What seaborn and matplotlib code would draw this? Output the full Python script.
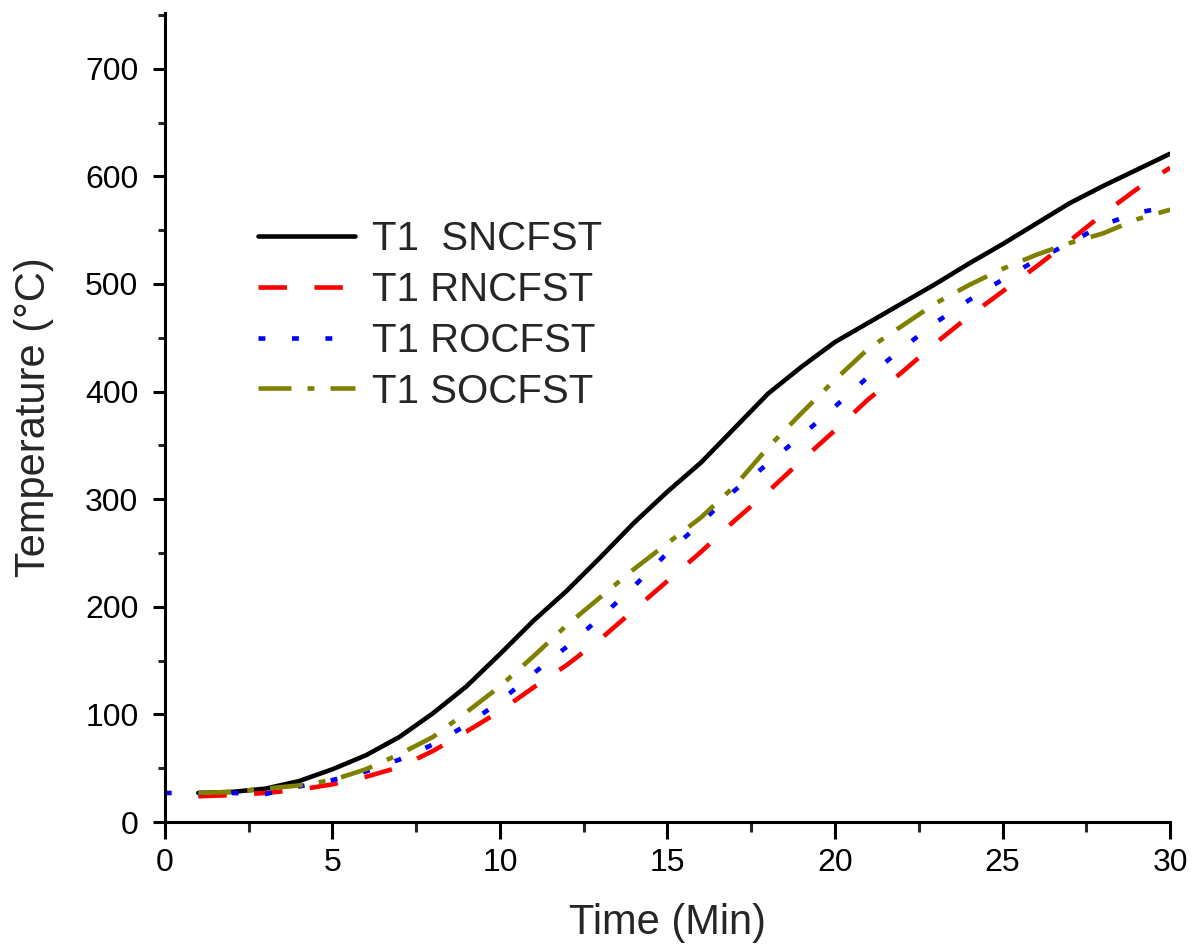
import numpy as np
import pandas as pd
import matplotlib
matplotlib.use("Agg")
import matplotlib.pyplot as plt
import seaborn as sns

# --- data (time in min, temperature in deg C) ---
time_main = list(range(1, 31))
time_blue = list(range(0, 31))

t1_sncfst = [27, 28, 31, 38, 49, 62, 79, 101, 126, 156, 187, 215, 246, 278, 307,
             334, 366, 398, 423, 446, 464, 482, 500, 519, 537, 556, 575, 591, 606, 621]
t1_rncfst = [24, 25, 27, 30, 35, 42, 51, 66, 84, 103, 125, 146, 170, 197, 224,
             251, 280, 307, 336, 364, 393, 418, 445, 470, 493, 516, 540, 565, 588, 608]
t1_rocfst = [27, 27, 27, 26, 33, 39, 47, 58, 72, 90, 112, 138, 163, 190, 219, 250,
             278, 308, 333, 359, 386, 414, 440, 464, 485, 504, 522, 538, 555, 566, 572]
t1_socfst = [27, 28, 31, 34, 39, 49, 63, 79, 102, 126, 154, 183, 209, 235, 259,
             283, 312, 348, 380, 411, 440, 461, 482, 499, 514, 527, 538, 547, 560, 569]

labels = ["T1  SNCFST", "T1 RNCFST", "T1 ROCFST", "T1 SOCFST"]

# --- figure ---
sns.set_style("ticks")
plt.rcParams['font.family'] = ['Liberation Sans', 'DejaVu Sans']

fig = plt.figure(figsize=(11.94, 9.51), dpi=100)
ax = fig.add_axes([0.138, 0.1356, 0.842, 0.851])

lw = 3.3
sns.lineplot(x=time_main, y=t1_sncfst, ax=ax, color="black", linewidth=lw,
             label=labels[0])
sns.lineplot(x=time_main, y=t1_rncfst, ax=ax, color="#ff0000", linewidth=lw,
             linestyle=(0, (6.2, 6.0)), label=labels[1])
sns.lineplot(x=time_blue, y=t1_rocfst, ax=ax, color="#0000ff", linewidth=lw,
             linestyle=(0, (1.5, 5.8)), label=labels[2])
sns.lineplot(x=time_main, y=t1_socfst, ax=ax, color="#808000", linewidth=lw,
             linestyle=(0, (7.2, 3.5, 1.5, 3.5)), label=labels[3])

ax.set_xlim(0, 30)
ax.set_ylim(0, 752)
ax.set_xticks(range(0, 31, 5))
ax.set_xticks(np.arange(2.5, 30, 5), minor=True)
ax.set_yticks(range(0, 701, 100))
ax.set_yticks(range(50, 751, 100), minor=True)

for side in ["top", "right"]:
    ax.spines[side].set_visible(False)
for side in ["left", "bottom"]:
    ax.spines[side].set_linewidth(2.2)
    ax.spines[side].set_color("black")

ax.tick_params(axis="x", which="major", length=12, width=2.2, direction="out",
               labelsize=23, pad=7, colors="black")
ax.tick_params(axis="x", which="minor", length=7, width=2.2, direction="out")
ax.tick_params(axis="y", which="major", length=9, width=2.2, direction="out",
               labelsize=23, pad=10, colors="black")
ax.tick_params(axis="y", which="minor", length=5, width=2.2, direction="out")

ax.set_xlabel("Time (Min)", fontsize=30, labelpad=18)
ax.set_ylabel("Temperature (°C)", fontsize=30, labelpad=22)

ax.legend(loc="upper left", bbox_to_anchor=(0.093, 0.744), frameon=False,
          fontsize=29, handlelength=2.4, handletextpad=0.42, borderpad=0,
          borderaxespad=0, labelspacing=0.32)

plt.savefig("out.png", dpi=100)
